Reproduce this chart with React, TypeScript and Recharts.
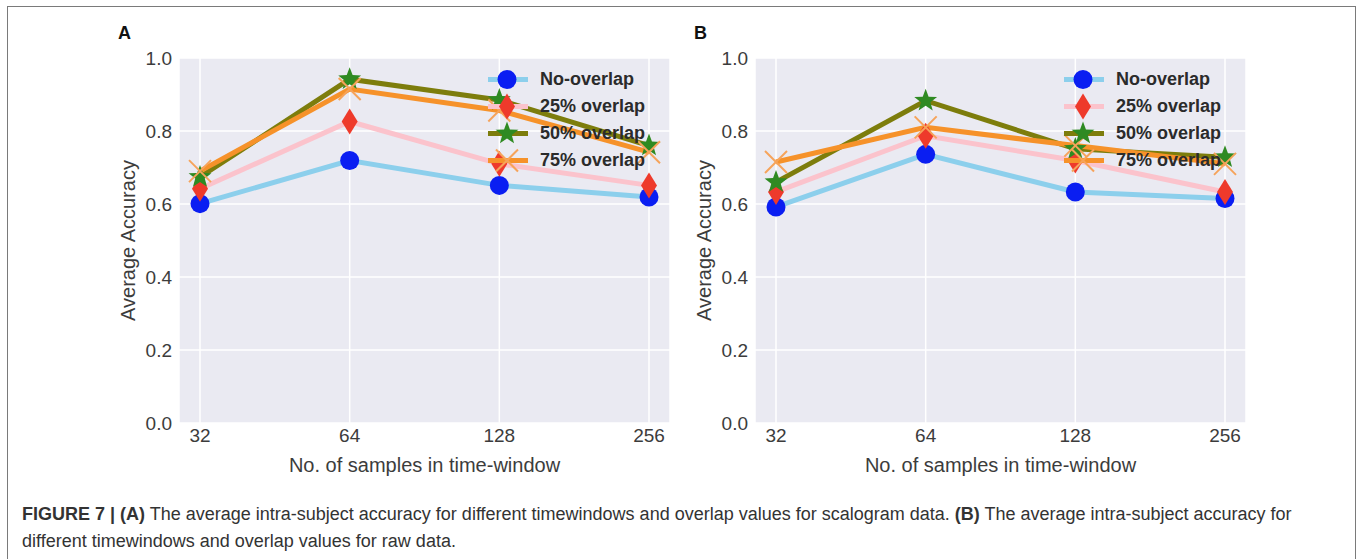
import { CartesianGrid, Label, Legend, Line, LineChart, XAxis, YAxis } from "recharts";

const FONT = '"Liberation Sans", Arial, Helvetica, sans-serif';

const windows = ["32", "64", "128", "256"];
const seriesNames = ["No-overlap", "25% overlap", "50% overlap", "75% overlap"];
const yTicks = [0, 0.2, 0.4, 0.6, 0.8, 1.0];

// panel A: scalogram data
const scalogramNoOverlap = [0.601, 0.719, 0.651, 0.619];
const scalogram25 = [0.642, 0.826, 0.71, 0.651];
const scalogram50 = [0.674, 0.942, 0.885, 0.76];
const scalogram75 = [0.69, 0.915, 0.856, 0.742];

// panel B: raw data
const rawNoOverlap = [0.592, 0.736, 0.633, 0.615];
const raw25 = [0.633, 0.787, 0.719, 0.633];
const raw50 = [0.66, 0.883, 0.751, 0.728];
const raw75 = [0.715, 0.81, 0.76, 0.71];

const LINE_COLORS = ["#8ccfec", "#fbc3cc", "#7d7d0c", "#f6922a"];
const MARKERS = ["circle", "diamond", "star", "x"] as const;

function starPoints(cx: number, cy: number, ro: number, ri: number) {
  const pts: string[] = [];
  for (let k = 0; k < 10; k++) {
    const r = k % 2 === 0 ? ro : ri;
    const a = -Math.PI / 2 + (k * Math.PI) / 5;
    pts.push(`${cx + r * Math.cos(a)},${cy + r * Math.sin(a)}`);
  }
  return pts.join(" ");
}

function Marker({ kind, cx, cy }: { kind: string; cx: number; cy: number }) {
  if (kind === "circle") return <circle cx={cx} cy={cy} r={9.5} fill="#0a1ef2" />;
  if (kind === "diamond")
    return (
      <polygon
        points={`${cx},${cy - 13} ${cx + 8},${cy} ${cx},${cy + 13} ${cx - 8},${cy}`}
        fill="#ee3a2b"
      />
    );
  if (kind === "star") return <polygon points={starPoints(cx, cy, 12, 5)} fill="#2f8a22" />;
  return (
    <g stroke="#f6a35a" strokeWidth={2}>
      <line x1={cx - 11} y1={cy - 11} x2={cx + 11} y2={cy + 11} />
      <line x1={cx - 11} y1={cy + 11} x2={cx + 11} y2={cy - 11} />
    </g>
  );
}

function LegendBox() {
  return (
    <div style={{ fontFamily: FONT }}>
      {seriesNames.map((name, i) => (
        <div key={name} style={{ display: "flex", alignItems: "center", height: 27 }}>
          <svg width={44} height={27} style={{ display: "block" }}>
            <line x1={2} y1={13.5} x2={42} y2={13.5} stroke={LINE_COLORS[i]} strokeWidth={5} />
            <Marker kind={MARKERS[i]} cx={21} cy={13.5} />
          </svg>
          <span style={{ marginLeft: 10, fontSize: 18, fontWeight: 700, color: "#2b2b2b" }}>{name}</span>
        </div>
      ))}
    </div>
  );
}

function YTitle(props: any) {
  const vb = props.viewBox;
  const x = vb.x + 9;
  const y = vb.y + vb.height / 2;
  return (
    <text x={x} y={y} transform={`rotate(-90 ${x} ${y})`} textAnchor="middle" dominantBaseline="central"
      fontSize={20} fill="#3c3c3c" fontFamily={FONT}>
      Average Accuracy
    </text>
  );
}

function Panel({ letter, left, series }: { letter: string; left: number; series: number[][] }) {
  const data = windows.map((w, i) => ({
    window: w, s0: series[0][i], s1: series[1][i], s2: series[2][i], s3: series[3][i],
  }));
  const tick = { fontSize: 19, fill: "#3c3c3c", fontFamily: FONT };
  return (
    <div style={{ position: "absolute", left, top: 0 }}>
      <div style={{ position: "absolute", left: 118, top: 23, fontFamily: FONT, fontWeight: 700, fontSize: 18, color: "#111" }}>
        {letter}
      </div>
      <LineChart width={690} height={480} data={data} margin={{ top: 58, right: 20, bottom: 0, left: 119 }}>
        <CartesianGrid fill="#eaeaf2" stroke="#ffffff" strokeWidth={1.5} />
        <XAxis dataKey="window" axisLine={false} tickLine={false} tickSize={0} tickMargin={6} height={57}
          padding={{ left: 21, right: 21 }} tick={tick}>
          <Label value="No. of samples in time-window" position="insideBottom" offset={8}
            style={{ fontSize: 20, fill: "#3c3c3c", fontFamily: FONT }} />
        </XAxis>
        <YAxis domain={[0, 1]} ticks={yTicks} width={60} axisLine={false} tickLine={false} tickSize={0}
          tickMargin={7} tick={tick} tickFormatter={(v: number) => v.toFixed(1)}>
          <Label content={YTitle} />
        </YAxis>
        {series.map((_, i) => (
          <Line key={i} dataKey={`s${i}`} name={seriesNames[i]} type="linear" stroke={LINE_COLORS[i]}
            strokeWidth={5} isAnimationActive={false}
            dot={(p: any) => <Marker key={`d${i}-${p.index}`} kind={MARKERS[i]} cx={p.cx} cy={p.cy} />}
            activeDot={false} />
        ))}
        <Legend layout="vertical" align="center" verticalAlign="middle" content={<LegendBox />}
          wrapperStyle={{ left: 486, top: 66, width: "auto", height: "auto" }} />
      </LineChart>
    </div>
  );
}

export default function App() {
  const cap = { position: "absolute" as const, left: 22, fontFamily: FONT, fontSize: 18, color: "#333", whiteSpace: "nowrap" as const };
  return (
    <div style={{ position: "absolute", left: 0, top: 0, width: 1357, height: 559, background: "#fff", overflow: "hidden" }}>
      <div style={{ position: "absolute", left: 7, top: 6, width: 1347, height: 600, border: "1px solid #7a7a7a" }} />
      <Panel letter="A" left={0} series={[scalogramNoOverlap, scalogram25, scalogram50, scalogram75]} />
      <Panel letter="B" left={576} series={[rawNoOverlap, raw25, raw50, raw75]} />
      <div style={{ ...cap, top: 504 }}>
        <b>FIGURE 7 | (A)</b>{" The average intra-subject accuracy for different timewindows and overlap values for scalogram data. "}
        <b>(B)</b>{" The average intra-subject accuracy for"}
      </div>
      <div style={{ ...cap, top: 531 }}>different timewindows and overlap values for raw data.</div>
    </div>
  );
}
